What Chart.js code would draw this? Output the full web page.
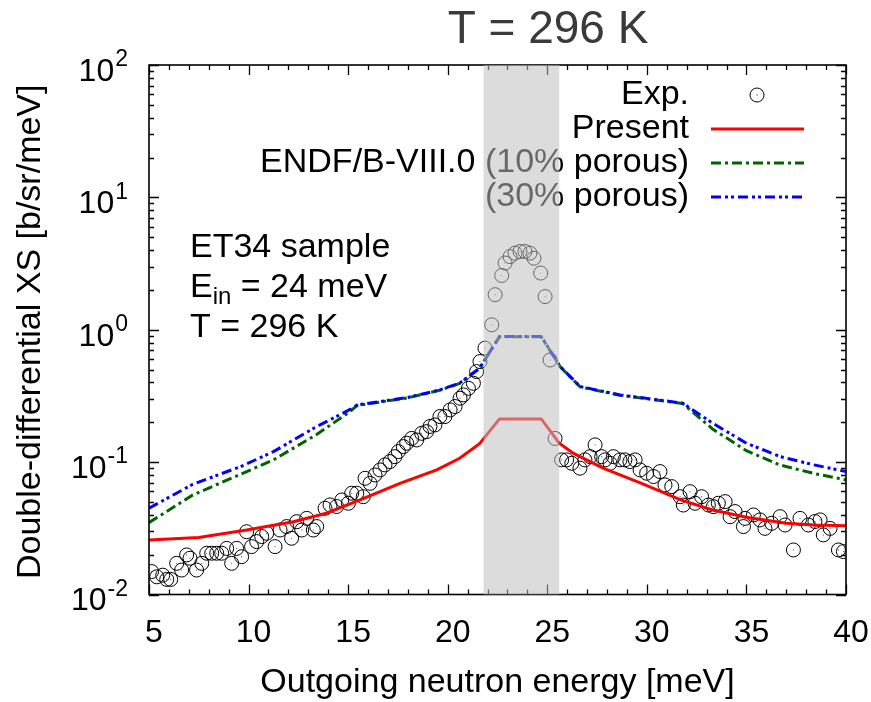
<!DOCTYPE html>
<html>
<head>
<meta charset="utf-8">
<script src="https://cdn.jsdelivr.net/npm/chart.js@4.4.1/dist/chart.umd.min.js"></script>
<style>
  html, body { margin: 0; padding: 0; background: #ffffff; }
  canvas { display: block; }
</style>
</head>
<body>
<canvas id="canvas-xs" width="871" height="702"></canvas>
<script>
// datos experimentales (Exp.)
var expE = [5.13, 5.39, 5.69, 5.89, 6.09, 6.39, 6.64, 6.89, 7.06, 7.39, 7.65, 7.90, 8.15, 8.40, 8.65, 8.90, 9.15, 9.40, 9.65, 9.90,
    10.15, 10.41, 10.66, 10.91, 11.33, 11.58, 11.91, 12.16, 12.42, 12.67, 12.92, 13.25, 13.42, 13.84, 14.09, 14.42, 14.68, 15.01, 15.18, 15.43,
    15.76, 15.85, 16.10, 16.35, 16.60, 16.85, 17.10, 17.35, 17.52, 17.77, 17.94, 18.19, 18.44, 18.69, 18.94, 19.11, 19.36, 19.61, 19.86, 20.12,
    20.37, 20.62, 20.79, 21.04, 21.29, 21.45, 21.62, 21.87, 22.21, 22.38, 22.71, 22.88, 23.13, 23.38, 23.63, 23.88, 24.13, 24.33, 24.67, 24.89,
    25.14, 25.39, 25.72, 25.97, 26.23, 26.64, 26.89, 27.15, 27.40, 27.73, 27.90, 28.15, 28.32, 28.65, 28.90, 29.15, 29.41, 29.66, 29.99, 30.33,
    30.66, 30.91, 31.25, 31.67, 31.83, 32.17, 32.42, 32.75, 33.09, 33.34, 33.59, 33.93, 34.18, 34.43, 34.85, 34.93, 35.35, 35.68, 35.93, 36.27,
    36.69, 36.94, 37.36, 37.69, 38.11, 38.44, 38.70, 38.86, 39.20, 39.62, 39.87];
var expXS = [0.0149, 0.0136, 0.0140, 0.0130, 0.0130, 0.0172, 0.0153, 0.0199, 0.0188, 0.0153, 0.0172, 0.0205, 0.0205, 0.0205, 0.0205, 0.0223, 0.0172, 0.0223, 0.0193, 0.0298,
    0.0230, 0.0251, 0.0274, 0.0290, 0.0230, 0.0307, 0.0326, 0.0266, 0.0355, 0.0307, 0.0376, 0.0307, 0.0326, 0.0448, 0.0475, 0.0462, 0.0518, 0.0489, 0.0582, 0.0582,
    0.0548, 0.0755, 0.0692, 0.080, 0.0873, 0.0953, 0.101, 0.110, 0.120, 0.131, 0.139, 0.151, 0.147, 0.165, 0.170, 0.186, 0.191, 0.221, 0.221, 0.248,
    0.263, 0.304, 0.322, 0.361, 0.394, 0.483, 0.575, 0.726, 1.09, 1.84, 2.57, 3.19, 3.57, 3.79, 3.90, 3.90, 3.79, 3.47, 2.68, 1.78,
    0.591, 0.151, 0.104, 0.104, 0.098, 0.090, 0.104, 0.110, 0.135, 0.110, 0.104, 0.098, 0.110, 0.104, 0.104, 0.101, 0.104, 0.0873, 0.0824, 0.0778,
    0.0848, 0.0673, 0.0653, 0.0548, 0.0474, 0.0598, 0.0489, 0.0548, 0.0474, 0.0461, 0.0489, 0.0503, 0.0387, 0.0423, 0.0326, 0.0376, 0.0399, 0.0366, 0.0316, 0.0345,
    0.0387, 0.0335, 0.0217, 0.0376, 0.0335, 0.0356, 0.0366, 0.0282, 0.0316, 0.0217, 0.0211];

// Present (linea roja)
var presE = [5, 7.5, 9.9, 12.25, 13.9, 15.6, 17.6, 19.45, 20.6, 21.6, 22.6, 24.7, 25.6, 26.3, 27.8, 29.7, 31.7, 33.3, 35.0, 37.0, 38.4, 40];
var presXS = [0.0258, 0.0270, 0.0307, 0.0355, 0.0411, 0.0518, 0.0692, 0.0873, 0.107, 0.138, 0.212, 0.212, 0.139, 0.117, 0.090, 0.0693, 0.0518, 0.0435, 0.0383, 0.0345, 0.0335, 0.033];

// ENDF/B-VIII.0 10% y 30% porous
var endfE = [5, 7.2, 9.6, 11.25, 13.4, 15.1, 15.45, 17.95, 19.6, 20.6, 21.6, 22.6, 24.7, 25.65, 26.65, 28.65, 31.8, 33.3, 35.0, 36.7, 38.4, 40];
var endf10XS = [0.0349, 0.0565, 0.081, 0.104, 0.161, 0.241, 0.268, 0.305, 0.349, 0.393, 0.510, 0.885, 0.885, 0.524, 0.370, 0.320, 0.277, 0.178, 0.122, 0.095, 0.082, 0.0734];
var endf30XS = [0.0449, 0.068, 0.0925, 0.120, 0.185, 0.250, 0.270, 0.307, 0.351, 0.395, 0.513, 0.889, 0.889, 0.527, 0.372, 0.322, 0.279, 0.197, 0.139, 0.110, 0.0953, 0.0848];

// ejes y banda gris
var xTicks = [5, 10, 15, 20, 25, 30, 35, 40];
var yTicks = [0.01, 0.1, 1, 10, 100];
var yTickExp = ["-2", "-1", "0", "1", "2"];
var bandE = [21.8, 25.6];

var legendLabels = ["Exp.", "Present", "ENDF/B-VIII.0 (10% porous)", "(30% porous)"];

var FONT = "'Liberation Sans', Arial, sans-serif";

function puntos(xs, ys) {
    var out = [];
    for (var i = 0; i < xs.length; i++) {
        out.push({ x: xs[i], y: ys[i] });
    }
    return out;
}

var dashGreen = [10, 4, 3, 4];
var dashBlue = [10, 4, 3, 3, 3, 4];

// dibuja marco, ticks, textos, leyenda y banda
var decoPlugin = {
    id: "deco",
    afterDraw: function (chart) {
        var ctx = chart.ctx;
        var a = chart.chartArea;
        var xs = chart.scales.x;
        var ys = chart.scales.y;
        ctx.save();

        // ticks hacia dentro, en los cuatro lados
        ctx.strokeStyle = "#000";
        ctx.lineWidth = 1.3;
        ctx.beginPath();
        for (var v = 5; v <= 40; v++) {
            var px = Math.round(xs.getPixelForValue(v)) + 0.5;
            var len = (v % 5 === 0) ? 10 : 5;
            ctx.moveTo(px, a.bottom); ctx.lineTo(px, a.bottom - len);
            ctx.moveTo(px, a.top); ctx.lineTo(px, a.top + len);
        }
        for (var d = -2; d <= 2; d++) {
            for (var k = 1; k <= 9; k++) {
                if (d === 2 && k > 1) break;
                var py = Math.round(ys.getPixelForValue(k * Math.pow(10, d))) + 0.5;
                var l2 = (k === 1) ? 10 : 5;
                ctx.moveTo(a.left, py); ctx.lineTo(a.left + l2, py);
                ctx.moveTo(a.right, py); ctx.lineTo(a.right - l2, py);
            }
        }
        ctx.stroke();

        // marco
        ctx.lineWidth = 1.6;
        ctx.strokeRect(a.left, a.top, a.right - a.left, a.bottom - a.top);

        ctx.fillStyle = "#000";
        // etiquetas eje x
        ctx.font = "32px " + FONT;
        ctx.textAlign = "center";
        ctx.textBaseline = "middle";
        xTicks.forEach(function (t) {
            ctx.fillText(String(t), xs.getPixelForValue(t) + 5, 633);
        });

        // etiquetas eje y (10^n)
        yTicks.forEach(function (t, i) {
            var py = ys.getPixelForValue(t);
            ctx.font = "23px " + FONT;
            var ew = ctx.measureText(yTickExp[i]).width;
            ctx.textAlign = "left";
            ctx.fillText(yTickExp[i], 128 - ew, py - 5);
            ctx.font = "32px " + FONT;
            ctx.textAlign = "right";
            ctx.fillText("10", 128 - ew - 1, py + 7);
        });

        // titulos de ejes
        ctx.font = "34px " + FONT;
        ctx.textAlign = "center";
        ctx.fillText("Outgoing neutron energy [meV]", (a.left + a.right) / 2, 683);
        ctx.save();
        ctx.translate(31, (a.top + a.bottom) / 2 + 2);
        ctx.rotate(-Math.PI / 2);
        ctx.fillText("Double-differential XS [b/sr/meV]", 0, 0);
        ctx.restore();

        // titulo
        ctx.fillStyle = "#3a3a3a";
        ctx.font = "46px " + FONT;
        ctx.fillText("T = 296 K", 548, 30);

        // anotacion
        ctx.fillStyle = "#000";
        ctx.textAlign = "left";
        ctx.font = "34px " + FONT;
        ctx.fillText("ET34 sample", 190, 248);
        ctx.fillText("E", 190, 288);
        var ewid = ctx.measureText("E").width;
        ctx.font = "24px " + FONT;
        ctx.fillText("in", 190 + ewid, 297);
        var iw = ctx.measureText("in").width;
        ctx.font = "34px " + FONT;
        ctx.fillText(" = 24 meV", 190 + ewid + iw, 288);
        ctx.fillText("T = 296 K", 190, 328);

        // leyenda
        var rowY = [95, 129, 163, 197];
        ctx.textAlign = "right";
        legendLabels.forEach(function (lab, i) {
            ctx.fillStyle = "#000";
            ctx.fillText(lab, 689, rowY[i]);
        });
        ctx.lineWidth = 1;
        ctx.strokeStyle = "#000";
        ctx.beginPath();
        ctx.arc(757, rowY[0], 7, 0, Math.PI * 2);
        ctx.stroke();
        ctx.fillRect(756.5, rowY[0] - 0.5, 1, 1);
        var muestras = [
            { c: "#ff0000", dash: [] },
            { c: "#006400", dash: dashGreen },
            { c: "#0000ff", dash: dashBlue }
        ];
        muestras.forEach(function (m, i) {
            ctx.strokeStyle = m.c;
            ctx.lineWidth = 3;
            ctx.setLineDash(m.dash);
            ctx.beginPath();
            ctx.moveTo(711, rowY[i + 1]);
            ctx.lineTo(804, rowY[i + 1]);
            ctx.stroke();
        });
        ctx.setLineDash([]);

        // banda gris semitransparente encima de todo
        var bx0 = xs.getPixelForValue(bandE[0]);
        var bx1 = xs.getPixelForValue(bandE[1]);
        ctx.fillStyle = "rgba(190,190,190,0.54)";
        ctx.fillRect(bx0, a.top, bx1 - bx0, a.bottom - a.top);

        ctx.restore();
    }
};

var contexto = document.getElementById("canvas-xs").getContext("2d");
var chartXS = new Chart(contexto, {
    type: "scatter",
    data: {
        datasets: [
            {
                label: "Exp.",
                data: puntos(expE, expXS),
                showLine: false,
                pointStyle: "circle",
                pointRadius: 7,
                pointBorderWidth: 1,
                pointBorderColor: "#000",
                pointBackgroundColor: "rgba(0,0,0,0)",
                order: 5
            },
            {
                // punto central de cada circulo
                label: "Exp. centro",
                data: puntos(expE, expXS),
                showLine: false,
                pointRadius: 0.6,
                pointBorderWidth: 0,
                pointBackgroundColor: "#555",
                order: 4
            },
            {
                label: "Present",
                data: puntos(presE, presXS),
                showLine: true,
                borderColor: "#ff0000",
                borderWidth: 3,
                pointRadius: 0,
                order: 3
            },
            {
                label: "ENDF/B-VIII.0 (10% porous)",
                data: puntos(endfE, endf10XS),
                showLine: true,
                borderColor: "#006400",
                borderWidth: 3,
                borderDash: dashGreen,
                pointRadius: 0,
                order: 2
            },
            {
                label: "(30% porous)",
                data: puntos(endfE, endf30XS),
                showLine: true,
                borderColor: "#0000ff",
                borderWidth: 3,
                borderDash: dashBlue,
                pointRadius: 0,
                order: 1
            }
        ]
    },
    options: {
        responsive: false,
        animation: false,
        layout: { padding: { left: 0, right: 25, top: 65, bottom: 0 } },
        plugins: {
            legend: { display: false },
            tooltip: { enabled: false },
            title: { display: false }
        },
        scales: {
            x: {
                type: "linear",
                min: 5,
                max: 40,
                grid: { display: false },
                border: { display: false },
                ticks: { display: false },
                afterFit: function (s) { s.height = 107.5; }
            },
            y: {
                type: "logarithmic",
                min: 0.01,
                max: 100,
                grid: { display: false },
                border: { display: false },
                ticks: { display: false },
                afterFit: function (s) { s.width = 149; }
            }
        }
    },
    plugins: [decoPlugin]
});
</script>
</body>
</html>
